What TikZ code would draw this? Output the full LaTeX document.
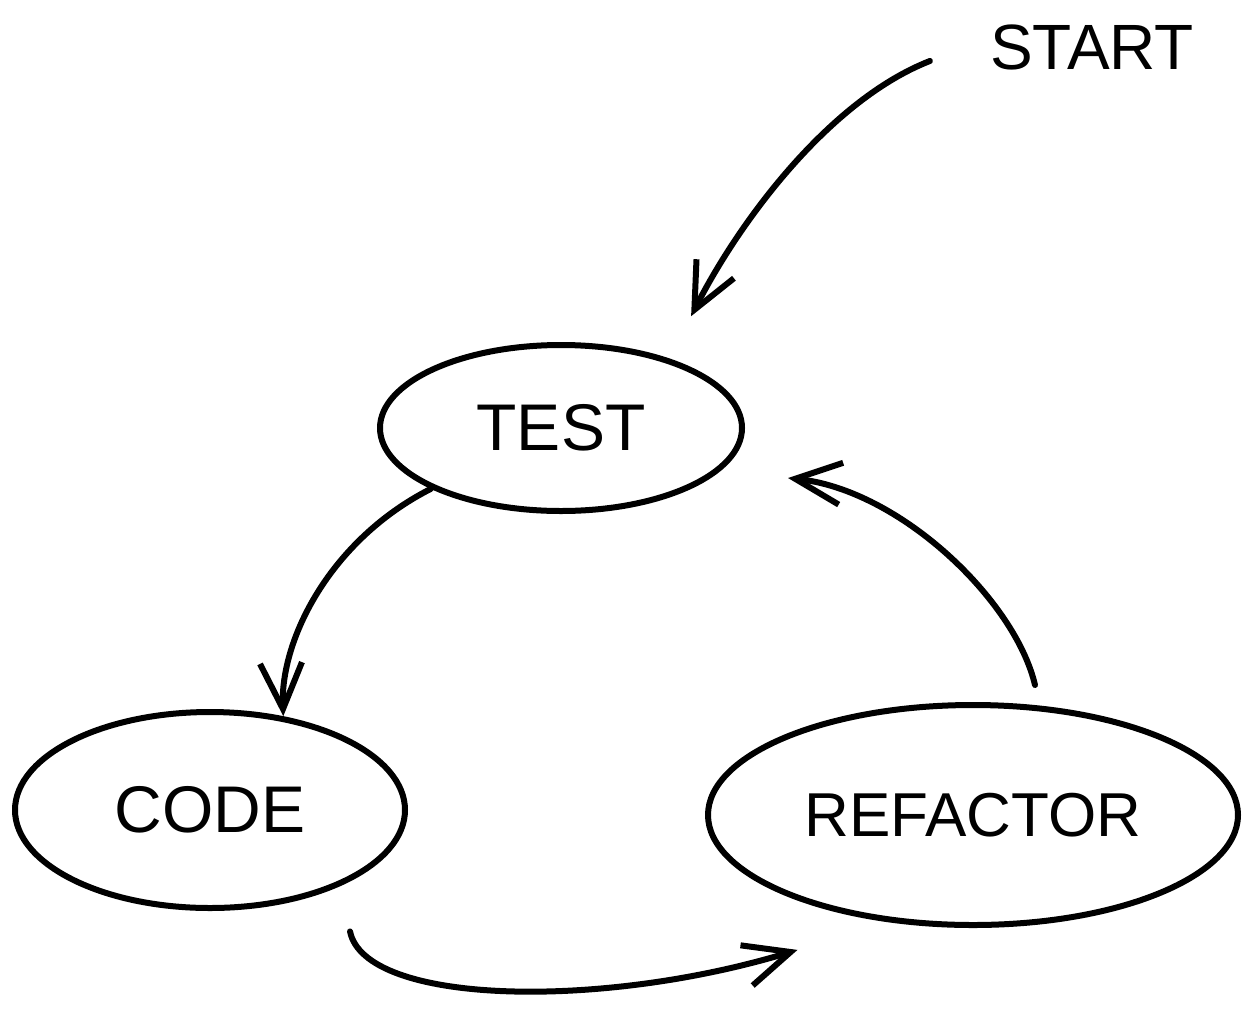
\documentclass[tikz,border=0pt]{standalone}
\usepackage{fontspec}
\setmainfont{Liberation Sans}
\usetikzlibrary{arrows.meta,shapes.geometric}
\begin{document}
\begin{tikzpicture}[x=1pt,y=-1pt,
  stroke/.style={line width=6pt,line cap=round,line join=round},
  state/.style={ellipse,draw,stroke,inner sep=0pt},
  lbl/.style={font=\fontsize{66}{66}\selectfont},
  flow/.style={stroke,-{Straight Barb[length=46pt,width=42pt,line width=6pt]}}]
\useasboundingbox[fill=white] (0,0) rectangle (1244,1023);
\node[state,lbl,minimum width=362pt,minimum height=166pt] (test) at (561,428) {TEST};
\node[state,lbl,minimum width=390pt,minimum height=196pt] (code) at (210,810) {CODE};
\node[state,lbl,minimum width=530pt,minimum height=220pt,font=\fontsize{62}{62}\selectfont] (refactor) at (973,815) {REFACTOR};
\node[lbl,font=\fontsize{64}{64}\selectfont,inner sep=0pt] (start) at (1092,47) {START};
\draw[flow] ([xshift=-60pt,yshift=-14pt]start.west) .. controls (830,100) and (740,220) .. ([yshift=51pt]test.north east);
\draw[flow] (test.south west) .. controls (330,540) and (280,640) .. (code.52);
\draw[flow] ([yshift=-50pt]code.south east) .. controls (365,1005) and (600,1010) .. ([xshift=14pt,yshift=-55pt]refactor.south west);
\draw[flow] ([xshift=62pt,yshift=17pt]refactor.north) .. controls (1015,600) and (900,490) .. ([xshift=43pt,yshift=-50pt]test.east);
\end{tikzpicture}
\end{document}
